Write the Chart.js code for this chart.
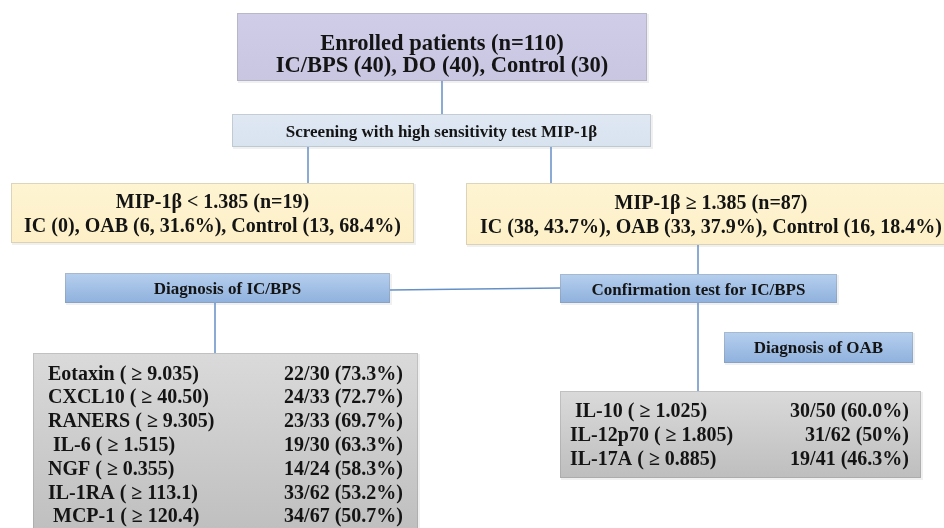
<!DOCTYPE html>
<html>
<head>
<meta charset="utf-8">
<script src="https://cdn.jsdelivr.net/npm/chart.js@4.4.1/dist/chart.umd.min.js"></script>
<style>
  html, body { margin: 0; padding: 0; background: #ffffff; }
  #wrap { width: 944px; height: 528px; }
</style>
</head>
<body>
<div id="wrap"><canvas id="c" width="944" height="528"></canvas></div>
<script>
// ---------- content (text of the flowchart) ----------
const headerLines = ["Enrolled patients (n=110)", "IC/BPS (40), DO (40), Control (30)"];
const screeningLabel = ["Screening with high sensitivity test MIP-1β"];
const lowGroupLines = ["MIP-1β < 1.385 (n=19)", "IC (0), OAB (6, 31.6%), Control (13, 68.4%)"];
const highGroupLines = ["MIP-1β ≥ 1.385 (n=87)", "IC (38, 43.7%), OAB (33, 37.9%), Control (16, 18.4%)"];
const stepLabels = ["Diagnosis of IC/BPS", "Confirmation test for IC/BPS", "Diagnosis of OAB"];
const icMarkers = ["Eotaxin ( ≥ 9.035)", "CXCL10 ( ≥ 40.50)", "RANERS ( ≥ 9.305)", " IL-6 ( ≥ 1.515)", "NGF ( ≥ 0.355)", "IL-1RA ( ≥ 113.1)", " MCP-1 ( ≥ 120.4)"];
const icResults = ["22/30 (73.3%)", "24/33 (72.7%)", "23/33 (69.7%)", "19/30 (63.3%)", "14/24 (58.3%)", "33/62 (53.2%)", "34/67 (50.7%)"];
const oabMarkers = [" IL-10 ( ≥ 1.025)", "IL-12p70 ( ≥ 1.805)", "IL-17A ( ≥ 0.885)"];
const oabResults = ["30/50 (60.0%)", "31/62 (50%)", "19/41 (46.3%)"];

// ---------- layout (positions / styles, in scale units) ----------
const SERIF = '"Liberation Serif", "Times New Roman", "DejaVu Serif", serif';
const LINE_COLOR = '#6590c6';
const LAYOUT = {
  top:     { x0: 237, x1: 647, y0: 13,  y1: 81,  fill: ['#cfcde7', '#c9c6e2'], lines: headerLines, size: 22.5, base: [50, 71.5], align: 'center' },
  screen:  { x0: 232, x1: 651, y0: 114, y1: 147, fill: ['#dfe8f3', '#d8e3f0'], lines: screeningLabel, size: 17, base: [137], align: 'center' },
  low:     { x0: 11,  x1: 414, y0: 183, y1: 243, fill: ['#fef4d2', '#fdf0c8'], lines: lowGroupLines, size: 20, base: [208, 231.5], align: 'center' },
  high:    { x0: 466, x1: 956, y0: 183, y1: 245, fill: ['#fef4d2', '#fdf0c8'], lines: highGroupLines, size: 20, base: [209, 233], align: 'center' },
  diagIC:  { x0: 65,  x1: 390, y0: 273, y1: 303, fill: ['#b6cfee', '#8fb1dd'], lines: [stepLabels[0]], size: 17, base: [294], align: 'center' },
  confirm: { x0: 560, x1: 837, y0: 274, y1: 303, fill: ['#b6cfee', '#8fb1dd'], lines: [stepLabels[1]], size: 17, base: [295], align: 'center' },
  diagOAB: { x0: 724, x1: 913, y0: 332, y1: 363, fill: ['#b6cfee', '#8fb1dd'], lines: [stepLabels[2]], size: 17, base: [353], align: 'center' },
  icPanel: { x0: 33,  x1: 418, y0: 353, y1: 545, fill: ['#dadada', '#bdbdbd'], size: 20,
             left: icMarkers, right: icResults, lx: 48, rx: 403, base0: 379.5, step: 23.8 },
  oabPanel:{ x0: 560, x1: 921, y0: 391, y1: 478, fill: ['#dadada', '#bebebe'], size: 20,
             left: oabMarkers, right: oabResults, lx: 570, rx: 909, base0: 416.5, step: 24 }
};
const B = LAYOUT;
// connectors derived from box edges: [x1, y1, x2, y2]
const connectors = [
  [442, B.top.y1, 442, B.screen.y0],
  [308, B.screen.y1, 308, B.low.y0],
  [551, B.screen.y1, 551, B.high.y0],
  [698, B.high.y1, 698, B.confirm.y0],
  [B.diagIC.x1, 290, B.confirm.x0, 288],
  [215, B.diagIC.y1, 215, B.icPanel.y0],
  [698, B.confirm.y1, 698, B.oabPanel.y0]
];

const datasets = connectors.map(c => ({
  type: 'line',
  data: [{ x: c[0], y: c[1] }, { x: c[2], y: c[3] }],
  showLine: true,
  borderColor: LINE_COLOR,
  borderWidth: 1.5,
  pointRadius: 0,
  fill: false,
  tension: 0
}));

const flowPlugin = {
  id: 'flow',
  beforeDatasetsDraw(chart) {
    const ctx = chart.ctx, xs = chart.scales.x, ys = chart.scales.y;
    ctx.save();
    Object.values(LAYOUT).forEach(b => {
      const x0 = xs.getPixelForValue(b.x0), x1 = xs.getPixelForValue(b.x1);
      const y0 = ys.getPixelForValue(b.y0), y1 = ys.getPixelForValue(b.y1);
      // soft shadow
      ctx.fillStyle = 'rgba(0,0,0,0.06)';
      ctx.fillRect(x0 + 1, y0 + 1, x1 - x0 + 1, y1 - y0 + 1);
      const g = ctx.createLinearGradient(0, y0, 0, y1);
      g.addColorStop(0, b.fill[0]);
      g.addColorStop(1, b.fill[1]);
      ctx.fillStyle = g;
      ctx.fillRect(x0, y0, x1 - x0, y1 - y0);
      ctx.strokeStyle = 'rgba(120,120,120,0.25)';
      ctx.lineWidth = 1;
      ctx.strokeRect(x0 + 0.5, y0 + 0.5, x1 - x0 - 1, y1 - y0 - 1);
    });
    ctx.restore();
  },
  afterDatasetsDraw(chart) {
    const ctx = chart.ctx, xs = chart.scales.x, ys = chart.scales.y;
    ctx.save();
    ctx.fillStyle = '#141414';
    ctx.textBaseline = 'alphabetic';
    Object.values(LAYOUT).forEach(b => {
      ctx.font = 'bold ' + b.size + 'px ' + SERIF;
      if (b.lines) {
        ctx.textAlign = 'center';
        const cx = xs.getPixelForValue((b.x0 + b.x1) / 2);
        b.lines.forEach((t, i) => ctx.fillText(t, cx, ys.getPixelForValue(b.base[i])));
      }
      if (b.left) {
        b.left.forEach((t, i) => {
          const y = ys.getPixelForValue(b.base0 + i * b.step);
          ctx.textAlign = 'left';
          ctx.fillText(t, xs.getPixelForValue(b.lx), y);
          ctx.textAlign = 'right';
          ctx.fillText(b.right[i], xs.getPixelForValue(b.rx), y);
        });
      }
    });
    ctx.restore();
  }
};

new Chart(document.getElementById('c'), {
  type: 'scatter',
  data: { datasets },
  options: {
    responsive: false,
    animation: false,
    layout: { padding: 0 },
    plugins: { legend: { display: false }, tooltip: { enabled: false }, title: { display: false } },
    scales: {
      x: { type: 'linear', min: 0, max: 944, display: false },
      y: { type: 'linear', min: 0, max: 528, reverse: true, display: false }
    },
    events: []
  },
  plugins: [flowPlugin]
});
</script>
</body>
</html>
